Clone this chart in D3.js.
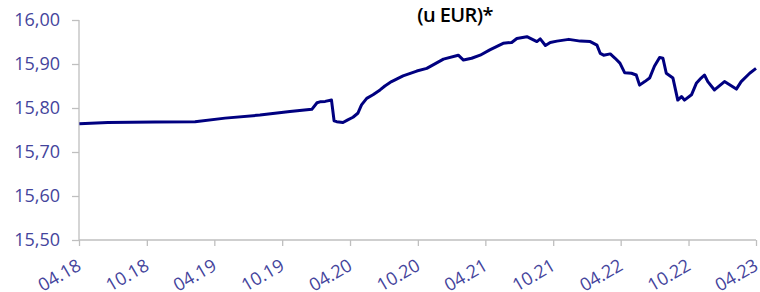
<!DOCTYPE html>
<html>
<head>
<meta charset="utf-8">
<script src="https://cdn.jsdelivr.net/npm/d3@7"></script>
<style>
  body { margin: 0; background: #fff; }
  .axis text { font-family: "Open Sans", sans-serif; fill: #44449c; }
  .axis path, .axis line { stroke: #bfbfbf; stroke-width: 1.3; }
</style>
</head>
<body>
<svg id="chart" width="760" height="292"></svg>
<script>
const svg = d3.select("#chart");

const dates = [
  "2018-04-02", "2018-06-18", "2018-10-23", "2019-02-08", "2019-04-30", "2019-08-02",
  "2019-10-22", "2019-12-20", "2020-01-03", "2020-01-11", "2020-01-25", "2020-02-11",
  "2020-02-18", "2020-02-25", "2020-03-13", "2020-03-26", "2020-04-09", "2020-04-22",
  "2020-05-02", "2020-05-16", "2020-06-02", "2020-06-21", "2020-07-04", "2020-07-22",
  "2020-08-22", "2020-09-28", "2020-10-25", "2020-12-09", "2021-01-18", "2021-02-01",
  "2021-02-23", "2021-03-18", "2021-04-13", "2021-05-19", "2021-06-11", "2021-06-25",
  "2021-07-22", "2021-08-18", "2021-08-27", "2021-09-10", "2021-09-23", "2021-10-11",
  "2021-11-12", "2021-12-13", "2022-01-09", "2022-01-27", "2022-02-05", "2022-02-14",
  "2022-03-04", "2022-03-17", "2022-03-30", "2022-04-12", "2022-04-30", "2022-05-13",
  "2022-05-22", "2022-06-05", "2022-06-18", "2022-07-01", "2022-07-15", "2022-07-24",
  "2022-08-02", "2022-08-20", "2022-09-02", "2022-09-12", "2022-09-20", "2022-10-09",
  "2022-10-22", "2022-11-04", "2022-11-13", "2022-11-22", "2022-12-10", "2023-01-06",
  "2023-02-07", "2023-02-20", "2023-03-15", "2023-04-01"
];
const values = [
  15.764, 15.767, 15.768, 15.769, 15.777, 15.784,
  15.792, 15.797, 15.812, 15.814, 15.815, 15.818,
  15.771, 15.769, 15.767, 15.773, 15.779, 15.788,
  15.807, 15.822, 15.830, 15.841, 15.850, 15.860,
  15.873, 15.884, 15.890, 15.911, 15.920, 15.909,
  15.913, 15.920, 15.932, 15.947, 15.949, 15.958,
  15.962, 15.951, 15.957, 15.942, 15.949, 15.952,
  15.956, 15.952, 15.951, 15.943, 15.924, 15.920,
  15.923, 15.913, 15.902, 15.880, 15.879, 15.875,
  15.852, 15.860, 15.868, 15.895, 15.915, 15.913,
  15.879, 15.868, 15.818, 15.826, 15.818, 15.830,
  15.856, 15.868, 15.875, 15.860, 15.841, 15.860,
  15.843, 15.860, 15.879, 15.890
];

const yTicks = [15.5, 15.6, 15.7, 15.8, 15.9, 16.0];
const xTickDates = ["2018-04-01", "2018-10-01", "2019-04-01", "2019-10-01", "2020-04-01", "2020-10-01",
  "2021-04-01", "2021-10-01", "2022-04-01", "2022-10-01", "2023-04-01"];
const xTickLabels = ["04.18", "10.18", "04.19", "10.19", "04.20", "10.20",
  "04.21", "10.21", "04.22", "10.22", "04.23"];
const title = "(u EUR)*";

const parse = d3.timeParse("%Y-%m-%d");
const data = dates.map((d, i) => ({ date: parse(d), value: values[i] }));
const tickDates = xTickDates.map(parse);

const x = d3.scaleTime()
  .domain([tickDates[0], tickDates[tickDates.length - 1]])
  .range([79, 756]);
const y = d3.scaleLinear().domain([15.5, 16.0]).range([240, 20]);

const fmt = d3.format(".2f");

// y axis
const yAxis = svg.append("g")
  .attr("class", "axis")
  .attr("transform", "translate(79,0)")
  .call(d3.axisLeft(y).tickValues(yTicks).tickSize(7).tickPadding(12)
    .tickFormat(d => fmt(d).replace(".", ",")));
yAxis.selectAll("text").attr("font-size", "18px");
yAxis.select(".domain").attr("d", `M0,${y(16.0)}V${y(15.5)}`);

// x axis
const xAxis = svg.append("g")
  .attr("class", "axis")
  .attr("transform", "translate(0,240)")
  .call(d3.axisBottom(x).tickValues(tickDates).tickSize(6)
    .tickFormat((d, i) => xTickLabels[i]));
xAxis.select(".domain").attr("d", `M${x.range()[0]},0H${x.range()[1]}`);
xAxis.selectAll("text")
  .attr("font-size", "18px")
  .attr("text-anchor", "end")
  .attr("dy", null)
  .attr("y", 0)
  .attr("transform", "translate(3,29) rotate(-30)");

// line
svg.append("path")
  .datum(data)
  .attr("fill", "none")
  .attr("stroke", "#000080")
  .attr("stroke-width", 3)
  .attr("stroke-linejoin", "round")
  .attr("d", d3.line().x(d => x(d.date)).y(d => y(d.value)));

// title
svg.append("text")
  .attr("x", 455)
  .attr("y", 22)
  .attr("text-anchor", "middle")
  .attr("font-family", "Open Sans, sans-serif")
  .attr("font-size", "20px")
  .attr("font-weight", 600)
  .attr("letter-spacing", "-0.6")
  .attr("fill", "#000")
  .text(title);
</script>
</body>
</html>
